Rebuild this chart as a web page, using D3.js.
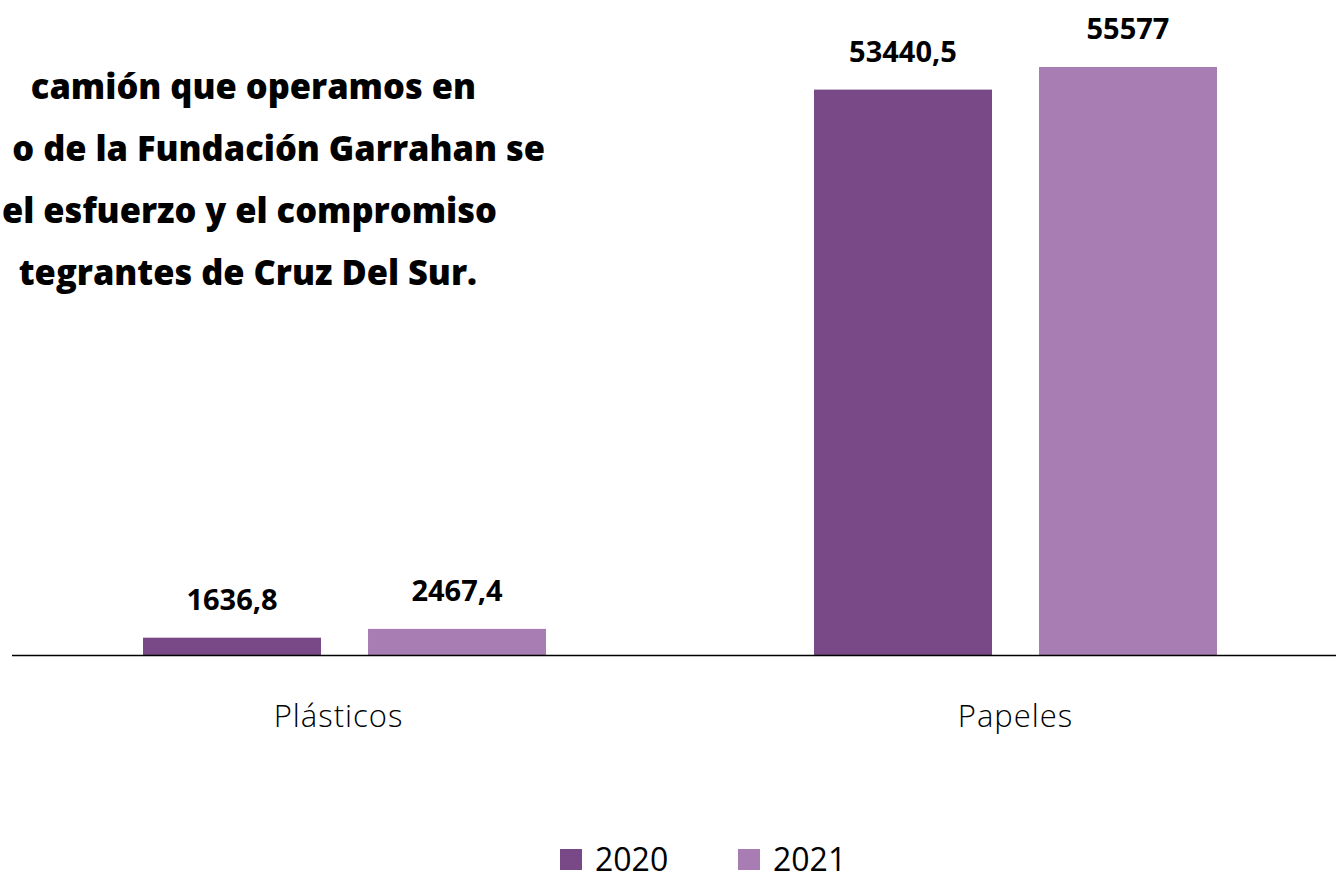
<!DOCTYPE html>
<html>
<head>
<meta charset="utf-8">
<script src="https://cdn.jsdelivr.net/npm/d3@7"></script>
<style>
  html, body { margin: 0; padding: 0; background: #ffffff; }
  svg { display: block; font-family: "Open Sans", "Noto Sans", sans-serif; }
</style>
</head>
<body>
<svg id="chart" width="1336" height="880"></svg>
<script>
// ---- data ----
const categories = ["Plásticos", "Papeles"];
const years = ["2020", "2021"];
const values2020 = [1636.8, 53440.5];
const values2021 = [2467.4, 55577];
const valueLabels2020 = ["1636,8", "53440,5"];
const valueLabels2021 = ["2467,4", "55577"];
const titleLines = [
  "camión que operamos en",
  "o de la Fundación Garrahan se",
  "el esfuerzo y el compromiso",
  "tegrantes de Cruz Del Sur."
];
const colors = ["#784887", "#a77db4"];

// ---- layout ----
const W = 1336, H = 880;
const baseY = 655, topY = 67;
const svg = d3.select("#chart");

const rows = categories.map((c, i) => ({
  cat: c,
  vals: [
    { year: years[0], v: values2020[i], label: valueLabels2020[i] },
    { year: years[1], v: values2021[i], label: valueLabels2021[i] }
  ]
}));

const x0 = d3.scaleBand().domain(categories).range([9, 1351]).paddingInner(0).paddingOuter(0);
const groupW = 403;
const x1 = d3.scaleBand().domain(years)
  .range([(x0.bandwidth() - groupW) / 2, (x0.bandwidth() + groupW) / 2])
  .paddingInner(0.209).paddingOuter(0);
const y = d3.scaleLinear().domain([0, d3.max(values2021.concat(values2020))]).range([baseY, topY]);
const color = d3.scaleOrdinal().domain(years).range(colors);

// title (clipped at left edge in the reference)
const titleRight = [476, 545, 497, 477];
const title = svg.append("g").selectAll("text").data(titleLines).join("text")
  .attr("x", (d, i) => titleRight[i])
  .attr("y", (d, i) => 99 + i * 62)
  .attr("text-anchor", "end")
  .attr("font-size", 30)
  .attr("font-weight", 800)
  .attr("fill", "#000")
  .text(d => d);
// fit font size so that the third line spans the width seen in the reference
const w3 = title.nodes()[2].getComputedTextLength();
const fs = 30 * 495 / w3;
title.attr("font-size", fs.toFixed(2));

// bars
const g = svg.append("g").selectAll("g").data(rows).join("g")
  .attr("transform", d => `translate(${x0(d.cat)},0)`);

g.selectAll("rect").data(d => d.vals).join("rect")
  .attr("x", d => x1(d.year))
  .attr("width", x1.bandwidth())
  .attr("y", d => y(d.v))
  .attr("height", d => baseY - y(d.v))
  .attr("fill", d => color(d.year));

g.selectAll("text.val").data(d => d.vals).join("text")
  .attr("class", "val")
  .attr("x", d => x1(d.year) + x1.bandwidth() / 2)
  .attr("y", d => y(d.v) - 28)
  .attr("text-anchor", "middle")
  .attr("font-size", 29)
  .attr("font-weight", 700)
  .attr("fill", "#000")
  .text(d => d.label);

// baseline axis
const xAxis = d3.axisBottom(x0).tickSize(0).tickPadding(0);
const ax = svg.append("g").attr("transform", `translate(0,${baseY})`).call(xAxis);
ax.select(".domain").attr("d", `M12,0.5H1336`).attr("stroke", "#000").attr("stroke-width", 1.3);
ax.selectAll(".tick text")
  .attr("y", 72)
  .attr("dy", 0)
  .attr("dx", (d, i) => i === 0 ? -6 : 0)
  .attr("font-family", "\"Open Sans\", sans-serif")
  .attr("font-size", 31)
  .attr("font-weight", 300)
  .attr("letter-spacing", 1)
  .attr("fill", "#000");

// legend
const legX = [560, 738];
const leg = svg.append("g").selectAll("g").data(years).join("g")
  .attr("transform", (d, i) => `translate(${legX[i]},849)`);
leg.append("rect").attr("width", 22).attr("height", 21).attr("fill", d => color(d));
leg.append("text").attr("x", 35).attr("y", 22)
  .attr("font-size", 32).attr("font-weight", 400).attr("fill", "#000")
  .text(d => d);
</script>
</body>
</html>
